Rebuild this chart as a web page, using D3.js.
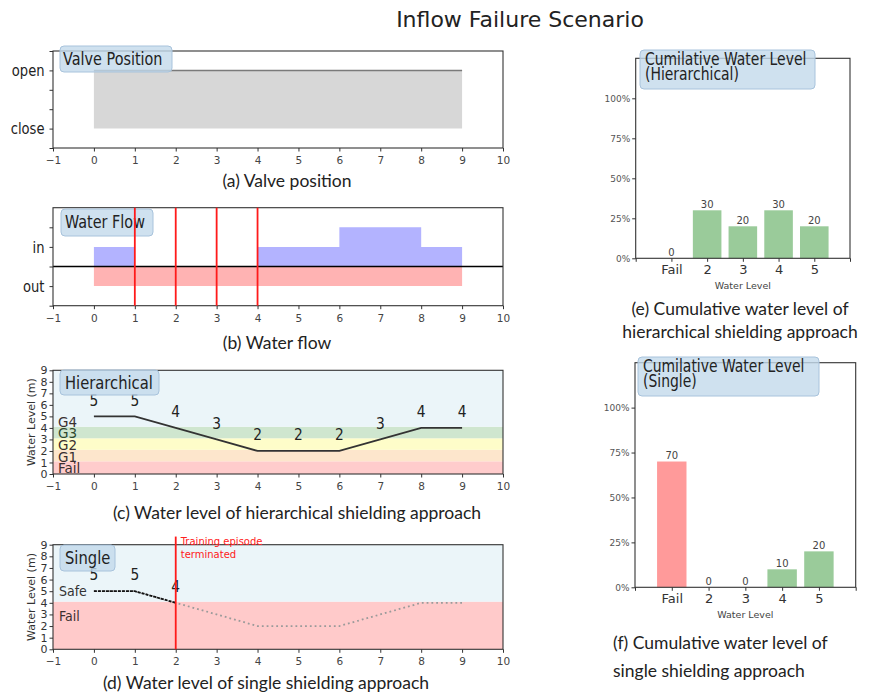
<!DOCTYPE html>
<html>
<head>
<meta charset="utf-8">
<script src="https://cdn.jsdelivr.net/npm/d3@7"></script>
<style>
  html, body { margin: 0; padding: 0; background: #fff; }
  svg { display: block; }
</style>
</head>
<body>
<svg id="fig" width="880" height="698"></svg>
<script>
// ---- data ----
const timeSteps = [0, 1, 2, 3, 4, 5, 6, 7, 8, 9];
const xTicks = [-1, 0, 1, 2, 3, 4, 5, 6, 7, 8, 9, 10];
// valve position per interval [t, t+1): 1 = open, 0 = close
const valvePosition = [1, 1, 1, 1, 1, 1, 1, 1, 1];
// inflow / outflow per interval
const inflow = [1, 0, 0, 0, 1, 1, 2, 2, 1];
const outflow = [-1, -1, -1, -1, -1, -1, -1, -1, -1];
const failureMarks = [1, 2, 3, 4];
// water level at each step
const waterLevel = [5, 5, 4, 3, 2, 2, 2, 3, 4, 4];
const terminatedAt = 2;
// shielding bands for the hierarchical approach
const hierBands = [
  { name: "Fail", lo: 0, hi: 1.1, color: "#ffcccc" },
  { name: "G1", lo: 1.1, hi: 2.1, color: "#fde6cc" },
  { name: "G2", lo: 2.1, hi: 3.1, color: "#fefdc9" },
  { name: "G3", lo: 3.1, hi: 4.1, color: "#cfe6cf" },
  { name: "G4", lo: 4.1, hi: 9, color: "#ebf5f9" }
];
const singleBands = [
  { name: "Fail", lo: 0, hi: 4.1, color: "#ffcaca" },
  { name: "Safe", lo: 4.1, hi: 9, color: "#ebf5f9" }
];
const levelCategories = ["Fail", "2", "3", "4", "5"];
const hierCumulative = [0, 30, 20, 30, 20];
const singleCumulative = [70, 0, 0, 10, 20];
const pctTicks = [0, 25, 50, 75, 100];

// ---- styling ----
const MPL = "'DejaVu Sans', sans-serif";
const CAP = "Lato, 'Open Sans', sans-serif";
const SPINE = "#333";
const BOX_FILL = "#c3d9eb";
const BOX_EDGE = "#a8c3dc";

const svg = d3.select("#fig");
svg.append("rect").attr("width", 880).attr("height", 698).attr("fill", "#fff");

function text(g, x, y, s, o = {}) {
  const t = g.append("text")
    .attr("transform", `translate(${x},${y}) scale(${o.sx || 1},1)`)
    .attr("text-anchor", o.anchor || "start")
    .style("font-family", o.family || MPL)
    .style("font-size", (o.size || 12) + "px")
    .attr("fill", o.fill || "#222")
    .text(s);
  return t;
}

function labelBox(g, box, lines, o) {
  g.append("rect")
    .attr("x", box.x).attr("y", box.y).attr("width", box.w).attr("height", box.h)
    .attr("rx", 4).attr("ry", 4)
    .attr("fill", BOX_FILL).attr("fill-opacity", 0.8)
    .attr("stroke", BOX_EDGE).attr("stroke-width", 1);
  const lineH = o.lineH || 0;
  lines.forEach((s, i) => text(g, box.x + o.padX, box.y + o.base + i * lineH, s,
    { size: o.size, sx: o.sx, fill: "#222" }));
}

function frame(g, x0, y0, x1, y1) {
  g.append("rect").attr("x", x0).attr("y", y0).attr("width", x1 - x0).attr("height", y1 - y0)
    .attr("fill", "none").attr("stroke", SPINE).attr("stroke-width", 1.1);
}

function styleAxis(sel, size, color) {
  sel.select(".domain").remove();
  sel.selectAll(".tick line").attr("stroke", SPINE).attr("stroke-width", 1);
  sel.selectAll(".tick text").style("font-family", MPL).style("font-size", size + "px").attr("fill", color);
}

const fmtTick = d => d < 0 ? "\u2212" + Math.abs(d) : String(d);

// shared x scale for the time-series panels
const x = d3.scaleLinear().domain([-1, 10]).range([53, 503]);

function timeXAxis(g, bottom) {
  const ax = g.append("g").attr("transform", `translate(0,${bottom})`)
    .call(d3.axisBottom(x).tickValues(xTicks).tickSize(3.5).tickPadding(5).tickFormat(fmtTick));
  styleAxis(ax, 10.5, "#444");
}

// ---- title ----
text(svg, 520, 27, "Inflow Failure Scenario", { size: 22, anchor: "middle", fill: "#222" });

// ---- (a) valve position ----
{
  const top = 51, bottom = 148;
  const y = d3.scaleLinear().domain([-1 / 3, 4 / 3]).range([bottom, top]);
  const g = svg.append("g");
  const pts = valvePosition.map((v, i) => ({ t: i, v })).concat([{ t: valvePosition.length, v: valvePosition[valvePosition.length - 1] }]);
  g.append("path").datum(pts)
    .attr("d", d3.area().curve(d3.curveStepAfter).x(d => x(d.t)).y0(y(0)).y1(d => y(d.v)))
    .attr("fill", "#d7d7d7");
  g.append("path").datum(pts)
    .attr("d", d3.line().curve(d3.curveStepAfter).x(d => x(d.t)).y(d => y(d.v)))
    .attr("fill", "none").attr("stroke", "#7a7a7a").attr("stroke-width", 1.5);
  const ay = g.append("g").attr("transform", `translate(${x(-1)},0)`)
    .call(d3.axisLeft(y).tickValues([-1 / 3, 0, 1 / 3, 2 / 3, 1, 4 / 3]).tickSize(3.5).tickPadding(4)
      .tickFormat(d => Math.abs(d - 1) < 1e-9 ? "open" : Math.abs(d) < 1e-9 ? "close" : ""));
  styleAxis(ay, 16, "#222");
  ay.selectAll(".tick text").attr("transform", "scale(0.82,1)").attr("x", -8.5 / 0.82);
  timeXAxis(g, bottom);
  frame(g, x(-1), top, x(10), bottom);
  labelBox(g, { x: 60, y: 46, w: 112, h: 26 }, ["Valve Position"], { padX: 3, base: 19, size: 18, sx: 0.8 });
  text(svg, 287, 187, "(a) Valve position", { family: CAP, size: 17.5, anchor: "middle" });
}

// ---- (b) water flow ----
{
  const top = 207.7, bottom = 305.7;
  const y = d3.scaleLinear().domain([-2, 3]).range([bottom, top]);
  const g = svg.append("g");
  const step = arr => arr.map((v, i) => ({ t: i, v })).concat([{ t: arr.length, v: arr[arr.length - 1] }]);
  const area = d3.area().curve(d3.curveStepAfter).x(d => x(d.t)).y0(y(0)).y1(d => y(d.v));
  g.append("path").datum(step(outflow)).attr("d", area).attr("fill", "#ffb3b3");
  g.append("path").datum(step(inflow)).attr("d", area).attr("fill", "#b3b3ff");
  g.append("line").attr("x1", x(-1)).attr("x2", x(10)).attr("y1", y(0)).attr("y2", y(0))
    .attr("stroke", "#000").attr("stroke-width", 1.6);
  const ay = g.append("g").attr("transform", `translate(${x(-1)},0)`)
    .call(d3.axisLeft(y).tickValues([-2, -1, 0, 1, 2]).tickSize(3.5).tickPadding(4)
      .tickFormat(d => d === 1 ? "in" : d === -1 ? "out" : ""));
  styleAxis(ay, 16, "#222");
  ay.selectAll(".tick text").attr("transform", "scale(0.82,1)").attr("x", -8.5 / 0.82);
  timeXAxis(g, bottom);
  frame(g, x(-1), top, x(10), bottom);
  labelBox(g, { x: 61, y: 209, w: 92, h: 27 }, ["Water Flow"], { padX: 4, base: 19, size: 18, sx: 0.8 });
  g.selectAll("line.fail").data(failureMarks).join("line").attr("class", "fail")
    .attr("x1", d => x(d)).attr("x2", d => x(d)).attr("y1", top).attr("y2", bottom)
    .attr("stroke", "#ff1a1a").attr("stroke-width", 1.8);
  text(svg, 277, 349, "(b) Water flow", { family: CAP, size: 17.5, anchor: "middle" });
}

// water level panel shared drawing
function levelPanel(top, bottom, bands) {
  const y = d3.scaleLinear().domain([0, 9]).range([bottom, top]);
  const g = svg.append("g");
  g.selectAll("rect.band").data(bands).join("rect").attr("class", "band")
    .attr("x", x(-1)).attr("width", x(10) - x(-1))
    .attr("y", d => y(d.hi)).attr("height", d => y(d.lo) - y(d.hi))
    .attr("fill", d => d.color);
  const ay = g.append("g").attr("transform", `translate(${x(-1)},0)`)
    .call(d3.axisLeft(y).tickValues(d3.range(0, 10)).tickSize(3.5).tickPadding(2));
  styleAxis(ay, 11, "#333");
  text(g, 0, 0, "Water Level (m)", { size: 11, anchor: "middle", fill: "#333" })
    .attr("transform", `translate(35,${(top + bottom) / 2}) rotate(-90)`);
  timeXAxis(g, bottom);
  return { g, y };
}

// ---- (c) hierarchical ----
{
  const top = 370.3, bottom = 474;
  const { g, y } = levelPanel(top, bottom, hierBands);
  const labelY = { "G4": 4.55, "G3": 3.6, "G2": 2.55, "G1": 1.5, "Fail": 0.5 };
  hierBands.forEach(b => text(g, 58, y(labelY[b.name]) + 5, b.name,
    { size: 13.5, fill: b.name === "G3" ? "#2f4a2f" : "#3a3030" }));
  const pts = timeSteps.map((t, i) => ({ t, v: waterLevel[i] }));
  g.append("path").datum(pts)
    .attr("d", d3.line().x(d => x(d.t)).y(d => y(d.v)))
    .attr("fill", "none").attr("stroke", "#333").attr("stroke-width", 1.8);
  pts.forEach(d => text(g, x(d.t), y(d.v + 1.4) + 5.5, String(d.v), { size: 15, anchor: "middle", sx: 0.92 }));
  frame(g, x(-1), top, x(10), bottom);
  labelBox(g, { x: 60, y: 370, w: 99, h: 25 }, ["Hierarchical"], { padX: 5, base: 18.5, size: 18, sx: 0.82 });
  text(svg, 297, 519, "(c) Water level of hierarchical shielding approach", { family: CAP, size: 17.5, anchor: "middle" });
}

// ---- (d) single ----
{
  const top = 544.7, bottom = 649.3;
  const { g, y } = levelPanel(top, bottom, singleBands);
  text(g, 59, y(5.05) + 5, "Safe", { size: 14, sx: 0.9, fill: "#333" });
  text(g, 59, y(2.85) + 5, "Fail", { size: 14, sx: 0.9, fill: "#3a3030" });
  const pts = timeSteps.map((t, i) => ({ t, v: waterLevel[i] }));
  const line = d3.line().x(d => x(d.t)).y(d => y(d.v));
  g.append("path").datum(pts).attr("d", line)
    .attr("fill", "none").attr("stroke", "#9a9a9a").attr("stroke-width", 1.8).attr("stroke-dasharray", "1.8,3");
  g.append("path").datum(pts.filter(d => d.t <= terminatedAt)).attr("d", line)
    .attr("fill", "none").attr("stroke", "#111").attr("stroke-width", 1.8).attr("stroke-dasharray", "3,1");
  pts.filter(d => d.t <= terminatedAt).forEach(d =>
    text(g, x(d.t), y(d.v + 1.4) + 5.5, String(d.v), { size: 15, anchor: "middle", sx: 0.92 }));
  frame(g, x(-1), top, x(10), bottom);
  g.append("line").attr("x1", x(terminatedAt)).attr("x2", x(terminatedAt))
    .attr("y1", y(9.7)).attr("y2", bottom).attr("stroke", "#ff1a1a").attr("stroke-width", 1.8);
  text(g, x(terminatedAt) + 5, 545, "Training episode", { size: 10, fill: "#ff2020" });
  text(g, x(terminatedAt) + 5, 557.5, "terminated", { size: 10, fill: "#ff2020" });
  labelBox(g, { x: 60, y: 545, w: 55, h: 26 }, ["Single"], { padX: 5, base: 18.5, size: 18, sx: 0.82 });
  text(svg, 266, 689, "(d) Water level of single shielding approach", { family: CAP, size: 17.5, anchor: "middle" });
}

// ---- cumulative bar panels ----
function barPanel(p, values, title) {
  const g = svg.append("g");
  const xb = d3.scaleLinear().domain([-1, 5]).range([p.left, p.right]);
  const yb = d3.scaleLinear().domain([0, 125]).range([p.bottom, p.top]);
  const bw = xb(0.8) - xb(0);
  g.selectAll("rect.bar").data(values).join("rect").attr("class", "bar")
    .attr("x", (d, i) => xb(i) - bw / 2).attr("width", bw)
    .attr("y", d => yb(d)).attr("height", d => yb(0) - yb(d))
    .attr("fill", (d, i) => levelCategories[i] === "Fail" ? "#ff9a9a" : "#9acb9a");
  values.forEach((v, i) => text(g, xb(i), yb(v) - 2.5, String(v), { size: 10, anchor: "middle", fill: "#444" }));
  const ay = g.append("g").attr("transform", `translate(${p.left},0)`)
    .call(d3.axisLeft(yb).tickValues(pctTicks).tickSize(3.5).tickPadding(2).tickFormat(d => d + "%"));
  styleAxis(ay, 9, "#555");
  const ax = g.append("g").attr("transform", `translate(0,${p.bottom})`)
    .call(d3.axisBottom(xb).tickValues([-1, 0, 1, 2, 3, 4, 5]).tickSize(3.5).tickPadding(3)
      .tickFormat(d => levelCategories[d] || ""));
  styleAxis(ax, 13, "#333");
  text(g, (p.left + p.right) / 2, p.bottom + 30.5, "Water Level", { size: 9.5, anchor: "middle", fill: "#444" });
  frame(g, p.left, p.top, p.right, p.bottom);
  labelBox(g, p.box, title, { padX: 5, base: 15, size: 17, sx: 0.82, lineH: 15 });
}

barPanel({ left: 635.7, right: 850, top: 58.3, bottom: 258.3, box: { x: 640, y: 50, w: 175, h: 39 } },
  hierCumulative, ["Cumilative Water Level", "(Hierarchical)"]);
text(svg, 740, 315, "(e) Cumulative water level of", { family: CAP, size: 17.5, anchor: "middle" });
text(svg, 740, 338, "hierarchical shielding approach", { family: CAP, size: 17.5, anchor: "middle" });

barPanel({ left: 635, right: 855.7, top: 362.7, bottom: 587.3, box: { x: 638, y: 357, w: 181, h: 39 } },
  singleCumulative, ["Cumilative Water Level", "(Single)"]);
text(svg, 613, 649, "(f) Cumulative water level of", { family: CAP, size: 17.5 });
text(svg, 613, 677, "single shielding approach", { family: CAP, size: 17.5 });
</script>
</body>
</html>
